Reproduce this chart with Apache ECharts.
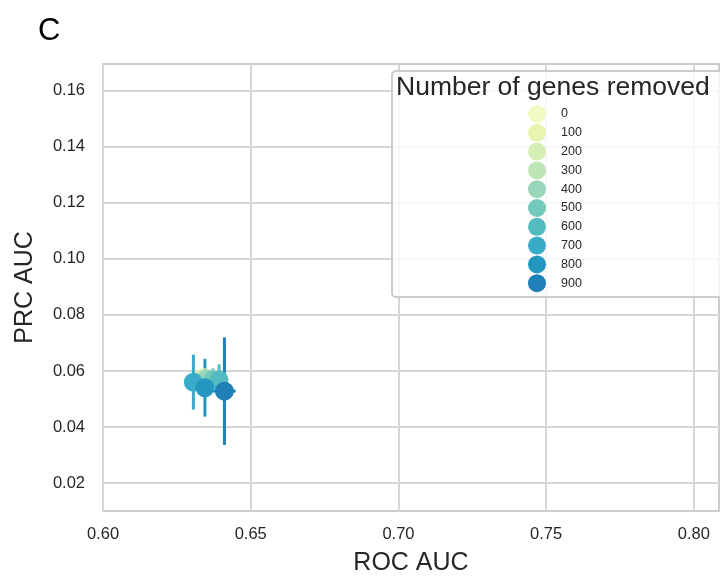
<!DOCTYPE html>
<html>
<head>
<meta charset="utf-8">
<script src="https://cdn.jsdelivr.net/npm/echarts@6/dist/echarts.min.js"></script>
<style>
  html, body { margin: 0; padding: 0; background: #fff; }
  #chart { width: 720px; height: 581px; }
</style>
</head>
<body>
<div id="chart"></div>
<script>
// Number of genes removed per group
const genesRemoved = [0, 100, 200, 300, 400, 500, 600, 700, 800, 900];
// Mean ROC AUC per group
const rocAuc = [0.6335, 0.6338, 0.6342, 0.6345, 0.6352, 0.6372, 0.6393, 0.6306, 0.6345, 0.6411];
// Mean PRC AUC per group
const prcAuc = [0.0572, 0.0574, 0.0576, 0.0574, 0.0571, 0.0569, 0.0568, 0.0560, 0.0540, 0.0528];
// Half-widths of the error bars
const rocErr = [0.0010, 0.0010, 0.0010, 0.0010, 0.0010, 0.0010, 0.0010, 0.0010, 0.0010, 0.0038];
const prcErr = [0.0030, 0.0030, 0.0030, 0.0030, 0.0035, 0.0040, 0.0056, 0.0098, 0.0103, 0.0192];
// YlGnBu colours, one per group
const groupColors = ['#f1f9c4', '#e7f5b1', '#d5eeb3', '#bee5b5', '#99d6bb', '#74c9bd',
                     '#52bcc1', '#37abc8', '#2497c1', '#1f80b8'];
// Tick values
const xTicks = [0.60, 0.65, 0.70, 0.75, 0.80];
const yTicks = [0.02, 0.04, 0.06, 0.08, 0.10, 0.12, 0.14, 0.16];

const FONT = "'Liberation Sans', Arial, sans-serif";
const TEXT = '#262626';

const series = [];
genesRemoved.forEach((g, i) => {
  // error bars for this group
  series.push({
    type: 'custom',
    name: 'err-' + g,
    data: [[rocAuc[i], prcAuc[i], rocErr[i], prcErr[i]]],
    renderItem: (params, api) => {
      const x = api.value(0), y = api.value(1), ex = api.value(2), ey = api.value(3);
      const top = api.coord([x, y + ey]);
      const bot = api.coord([x, y - ey]);
      const lft = api.coord([x - ex, y]);
      const rgt = api.coord([x + ex, y]);
      const style = { stroke: groupColors[i], lineWidth: 3 };
      return {
        type: 'group',
        children: [
          { type: 'line', shape: { x1: top[0], y1: top[1], x2: bot[0], y2: bot[1] }, style },
          { type: 'line', shape: { x1: lft[0], y1: lft[1], x2: rgt[0], y2: rgt[1] }, style }
        ]
      };
    },
    silent: true
  });
  // mean point for this group
  series.push({
    type: 'scatter',
    name: String(g),
    data: [[rocAuc[i], prcAuc[i]]],
    symbol: 'circle',
    symbolSize: 19,
    itemStyle: { color: groupColors[i], opacity: 1 },
    silent: true
  });
});

const chart = echarts.init(document.getElementById('chart'), null, { renderer: 'canvas' });
chart.setOption({
  animation: false,
  backgroundColor: '#ffffff',
  textStyle: { fontFamily: FONT },
  title: [
    { text: 'C', left: 33, top: 11, textStyle: { fontFamily: FONT, fontSize: 31, fontWeight: 'normal', color: '#000' } },
    { text: 'Number of genes removed', left: 391, top: 69, z: 6,
      textStyle: { fontFamily: FONT, fontSize: 26.5, fontWeight: 'normal', color: TEXT } }
  ],
  grid: {
    left: 103, top: 64, right: 1, bottom: 70,
    show: true, borderColor: '#cccccc', borderWidth: 2, backgroundColor: 'transparent'
  },
  xAxis: {
    type: 'value',
    min: 0.60, max: 0.8085,
    name: 'ROC AUC', nameLocation: 'middle', nameGap: 40,
    nameTextStyle: { fontFamily: FONT, fontSize: 25, color: TEXT },
    axisLine: { show: false },
    axisTick: { show: false, customValues: xTicks },
    axisLabel: { customValues: xTicks, margin: 15, fontFamily: FONT, fontSize: 16.5, color: TEXT,
                 formatter: v => v.toFixed(2) },
    splitLine: { show: true, lineStyle: { color: '#d6d6d6', width: 2 } }
  },
  yAxis: {
    type: 'value',
    min: 0.01, max: 0.1696,
    name: 'PRC AUC', nameLocation: 'middle', nameGap: 65, nameRotate: 90,
    nameTextStyle: { fontFamily: FONT, fontSize: 25, color: TEXT },
    axisLine: { show: false },
    axisTick: { show: false, customValues: yTicks },
    axisLabel: { customValues: yTicks, margin: 18, fontFamily: FONT, fontSize: 16.5, color: TEXT,
                 formatter: v => v.toFixed(2) },
    splitLine: { show: true, lineStyle: { color: '#d6d6d6', width: 2 } }
  },
  legend: {
    orient: 'vertical',
    left: 523, top: 100,
    z: 6,
    itemWidth: 18, itemHeight: 18, itemGap: 0.8,
    icon: 'circle',
    data: genesRemoved.map(String),
    textStyle: { fontFamily: FONT, fontSize: 12.5, color: TEXT, padding: [0, 0, 0, 10] },
    selectedMode: false
  },
  graphic: [{
    type: 'rect',
    left: 391, top: 70, z: 5,
    shape: { width: 400, height: 226, r: 4 },
    style: { fill: 'rgba(255,255,255,0.8)', stroke: '#cccccc', lineWidth: 2 }
  }],
  series
});
</script>
</body>
</html>
